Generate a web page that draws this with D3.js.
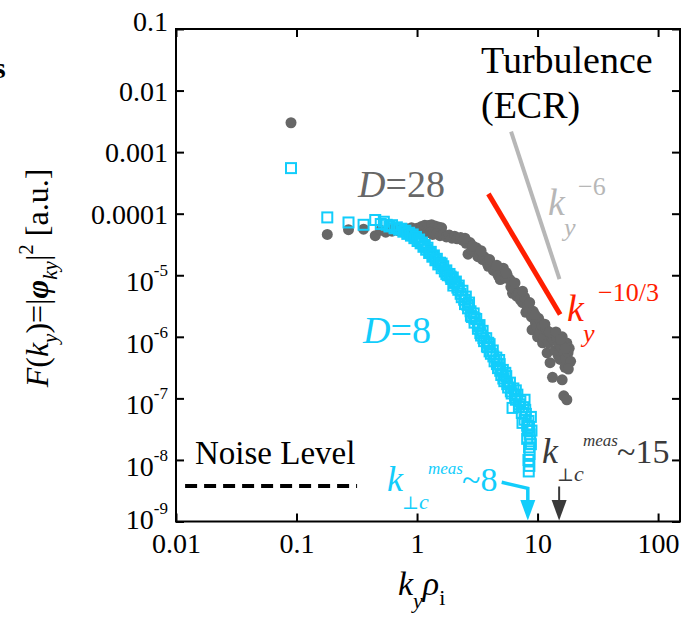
<!DOCTYPE html>
<html>
<head>
<meta charset="utf-8">
<script src="https://cdn.jsdelivr.net/npm/d3@7"></script>
<style>
  body { margin: 0; background: #fff; }
  svg text { font-family: "Liberation Serif", "DejaVu Serif", Times, serif; }
</style>
</head>
<body>
<div id="viz"></div>
<script>
const width = 691;
const height = 618;
const margin = {top: 29, right: 11, bottom: 96.5, left: 176};

// tick values
const xTicks = [0.01, 0.1, 1, 10, 100];
const yTicks = [0.1, 0.01, 0.001, 0.0001, 1e-5, 1e-6, 1e-7, 1e-8, 1e-9];
const xTickLabels = ['0.01', '0.1', '1', '10', '100'];
const yTickLabels = ['0.1', '0.01', '0.001', '0.0001', '10|-5', '10|-6', '10|-7', '10|-8', '10|-9'];

// D=28 (grey dots) : [k_y rho_i, F]
const grayPoints = [
  [0.09, 3.0e-3], [0.18, 4.6e-5], [0.27, 5.5e-5], [0.36, 5.6e-5], [0.45, 4.4e-5],
  [0.50, 5.4e-5], [0.55, 5.0e-5], [0.58, 5.6e-5], [0.62, 5.2e-5], [0.66, 5.8e-5],
  [0.70, 5.3e-5], [0.74, 5.6e-5], [0.78, 5.1e-5], [0.82, 5.7e-5], [0.86, 5.4e-5],
  [0.90, 5.9e-5], [0.95, 5.5e-5], [1.00, 5.8e-5], [1.05, 5.3e-5],
  [1.09, 6.2e-5], [1.16, 6.5e-5], [1.24, 6.4e-5], [1.32, 6.6e-5], [1.41, 6.3e-5],
  [1.50, 6.1e-5], [1.60, 5.9e-5],
  [1.20, 4.9e-5], [1.28, 5.0e-5], [1.35, 4.6e-5], [1.45, 4.7e-5], [1.55, 4.4e-5],
  [1.65, 4.6e-5], [1.75, 4.2e-5], [1.85, 4.5e-5], [1.95, 4.0e-5], [2.05, 4.3e-5],
  [2.15, 3.9e-5], [2.30, 4.1e-5], [2.40, 3.7e-5],
  [2.55, 3.3e-5], [2.65, 2.2e-5], [2.75, 3.4e-5], [2.85, 2.6e-5], [3.00, 2.4e-5],
  [3.10, 2.8e-5], [3.20, 2.0e-5], [3.35, 2.2e-5], [3.50, 1.8e-5], [3.60, 2.0e-5],
  [3.80, 1.6e-5], [3.90, 1.4e-5], [4.10, 1.5e-5], [4.30, 1.2e-5], [4.50, 1.3e-5],
  [4.70, 1.0e-5], [4.90, 8.5e-6], [5.00, 1.2e-5], [5.20, 1.3e-5], [5.40, 9.0e-6],
  [5.60, 1.0e-5], [5.90, 8.5e-6], [6.00, 6.5e-6], [6.20, 5.1e-6], [6.40, 6.0e-6],
  [6.70, 4.6e-6], [7.00, 5.2e-6], [7.20, 4.0e-6], [7.50, 3.6e-6], [7.80, 4.4e-6],
  [8.00, 2.5e-6], [8.20, 3.1e-6], [8.50, 2.6e-6], [8.90, 2.1e-6], [9.00, 1.3e-6],
  [9.20, 2.6e-6], [9.60, 1.7e-6], [9.90, 1.45e-6], [10.0, 1.0e-6], [10.2, 2.0e-6],
  [10.5, 1.17e-6], [10.9, 1.5e-6], [11.0, 8.0e-7], [11.3, 1.0e-6], [11.8, 1.3e-6],
  [12.0, 5.5e-7], [12.3, 8.0e-7], [12.7, 3.8e-7], [13.0, 1.0e-6], [13.5, 8.9e-7],
  [13.3, 2.2e-7], [14.0, 6.0e-7], [14.4, 9.5e-7], [14.8, 5.0e-7], [15.0, 7.5e-7],
  [15.4, 4.3e-7], [15.7, 6.8e-7], [16.0, 1.0e-6], [16.0, 2.0e-7], [16.6, 5.5e-7],
  [16.9, 3.2e-7], [17.2, 4.5e-7], [16.5, 1.1e-7], [17.5, 9.5e-8], [17.5, 7.9e-7],
  [17.9, 5.5e-7], [18.3, 6.5e-7], [18.8, 4.0e-7],
  [2.50, 4.0e-5], [2.90, 3.0e-5], [3.40, 2.5e-5], [4.00, 1.8e-5], [4.60, 1.45e-5],
  [5.50, 1.1e-5], [6.50, 7.5e-6], [7.50, 5.5e-6], [8.60, 3.6e-6], [9.50, 2.3e-6],
  [11.5, 1.6e-6], [12.5, 1.2e-6], [14.2, 1.2e-6], [15.5, 9.0e-7], [17.0, 6.5e-7],
  [18.0, 3.0e-7]
];

// D=8 (cyan squares) : [k_y rho_i, F]
const cyanPoints = [
  [0.09, 5.5e-4], [0.18, 8.7e-5], [0.27, 7.2e-5], [0.36, 6.6e-5], [0.45, 7.9e-5],
  [0.50, 6.8e-5], [0.53, 7.4e-5], [0.56, 6.6e-5], [0.59, 6.2e-5], [0.62, 6.5e-5],
  [0.65, 5.8e-5], [0.68, 6.0e-5], [0.71, 5.5e-5], [0.74, 5.7e-5], [0.77, 5.1e-5],
  [0.80, 5.3e-5], [0.83, 4.7e-5], [0.86, 4.9e-5], [0.89, 4.4e-5], [0.92, 4.6e-5],
  [0.95, 4.0e-5], [0.98, 4.2e-5], [1.01, 3.6e-5], [1.04, 3.8e-5], [1.07, 3.3e-5],
  [1.10, 3.4e-5], [1.13, 2.9e-5], [1.16, 3.1e-5], [1.19, 2.6e-5], [1.22, 2.8e-5],
  [1.26, 2.3e-5], [1.30, 2.4e-5], [1.34, 2.0e-5], [1.38, 2.1e-5], [1.42, 1.75e-5],
  [1.46, 1.85e-5], [1.50, 1.5e-5], [1.55, 1.6e-5], [1.60, 1.3e-5], [1.65, 1.4e-5],
  [1.70, 1.15e-5], [1.75, 1.2e-5], [1.80, 1.0e-5], [1.86, 1.05e-5], [1.92, 8.7e-6],
  [1.98, 9.2e-6], [2.04, 7.5e-6], [2.10, 7.9e-6], [2.16, 6.3e-6], [2.22, 6.8e-6],
  [2.30, 5.0e-6], [2.38, 5.6e-6], [2.46, 4.0e-6], [2.54, 4.5e-6], [2.62, 3.3e-6],
  [2.70, 3.6e-6], [2.78, 2.6e-6], [2.85, 2.1e-6], [2.95, 2.4e-6], [3.00, 1.7e-6],
  [3.10, 1.95e-6], [3.20, 1.35e-6], [3.30, 1.55e-6], [3.40, 1.05e-6], [3.50, 1.25e-6],
  [3.60, 8.5e-7], [3.75, 9.5e-7], [3.85, 6.8e-7], [4.00, 7.6e-7], [4.10, 5.3e-7],
  [4.25, 6.0e-7], [4.40, 4.0e-7], [4.55, 4.6e-7], [4.70, 3.1e-7], [4.85, 3.6e-7],
  [5.00, 2.4e-7], [5.15, 2.9e-7], [5.30, 1.9e-7], [5.50, 2.3e-7], [5.70, 1.5e-7],
  [5.90, 1.8e-7], [6.10, 1.2e-7], [6.30, 1.45e-7], [6.60, 9.5e-8], [6.80, 1.15e-7],
  [7.00, 7.4e-8], [7.20, 9.0e-8], [7.40, 5.8e-8], [7.60, 7.2e-8], [7.80, 4.5e-8],
  [8.00, 5.6e-8], [8.20, 3.6e-8], [8.40, 4.3e-8], [8.60, 2.6e-8], [8.30, 3.0e-8],
  [8.70, 2.0e-8], [8.50, 1.6e-8], [8.60, 1.25e-8], [8.40, 1.0e-8], [8.55, 8.0e-9],
  [8.45, 6.5e-9], [7.80, 9.5e-8], [6.20, 7.0e-8], [8.80, 5.0e-8], [7.50, 4.0e-8],
  [8.90, 3.0e-8],
  [1.60, 1.55e-5], [1.75, 1.05e-5], [1.90, 9.5e-6], [2.00, 6.8e-6], [2.20, 5.8e-6],
  [2.35, 4.4e-6], [2.50, 3.4e-6], [2.65, 2.9e-6], [2.80, 2.2e-6], [3.00, 2.0e-6],
  [3.20, 1.5e-6], [3.35, 1.15e-6], [3.55, 9.5e-7], [3.80, 7.0e-7], [4.00, 5.8e-7],
  [4.30, 4.8e-7], [4.60, 3.6e-7], [4.90, 2.8e-7], [5.20, 2.1e-7], [5.60, 1.7e-7],
  [6.00, 1.3e-7], [6.50, 1.1e-7], [7.10, 8.0e-8], [7.90, 6.5e-8], [8.50, 3.4e-8],
  [8.20, 2.2e-8], [8.80, 1.8e-8], [4.80, 4.2e-7], [5.40, 2.6e-7], [6.60, 1.35e-7],
  [3.90, 8.0e-7]
];

// reference slopes and noise floor
const slopeRed = [[3.91, 2.1e-4], [15.4, 2.3e-6]];      // k^-10/3
const slopeGray = [[6.03, 2.15e-3], [15.2, 8.65e-6]];   // k^-6
const noiseLevel = [[0.0119, 3.77e-9], [0.318, 3.77e-9]];
const kcCyan = 8.3;
const kcGray = 15.1;

const colGray = '#676767';
const colCyan = '#12cdfb';
const colRed = '#ff1e00';
const colLight = '#b7b7b7';
const colDark = '#3a3a3a';
const serif = '"Liberation Serif", "DejaVu Serif", Times, serif';

const x = d3.scaleLog().domain([0.01, 152]).range([margin.left, width - margin.right]);
const y = d3.scaleLog().domain([1e-9, 0.1]).range([height - margin.bottom, margin.top]);

const svg = d3.select('#viz').append('svg')
  .attr('width', width)
  .attr('height', height)
  .attr('font-family', serif);

// data
svg.append('g')
  .selectAll('circle')
  .data(grayPoints)
  .join('circle')
    .attr('cx', d => x(d[0]))
    .attr('cy', d => y(d[1]))
    .attr('r', 5.5)
    .attr('fill', colGray);

svg.append('g')
  .selectAll('rect')
  .data(cyanPoints)
  .join('rect')
    .attr('x', d => x(d[0]) - 5)
    .attr('y', d => y(d[1]) - 5)
    .attr('width', 10)
    .attr('height', 10)
    .attr('fill', 'none')
    .attr('stroke', colCyan)
    .attr('stroke-width', 2);

const line = d3.line().x(d => x(d[0])).y(d => y(d[1]));

svg.append('path').attr('d', line(slopeGray))
  .attr('stroke', colLight).attr('stroke-width', 4).attr('fill', 'none');
svg.append('path').attr('d', line(slopeRed))
  .attr('stroke', colRed).attr('stroke-width', 5).attr('fill', 'none');
svg.append('path').attr('d', line(noiseLevel))
  .attr('stroke', '#000').attr('stroke-width', 4).attr('stroke-dasharray', '12 7').attr('fill', 'none');

// axes: ticks inside on all four sides
const x0 = x.range()[0], x1 = x.range()[1];
const y0 = y.range()[0], y1 = y.range()[1];

const axB = svg.append('g').attr('transform', `translate(0,${y0})`)
  .call(d3.axisBottom(x).tickValues(xTicks).tickSize(-8).tickPadding(11.5)
    .tickFormat((d, i) => xTickLabels[i]));
svg.append('g').attr('transform', `translate(0,${y1})`)
  .call(d3.axisTop(x).tickValues(xTicks).tickSize(-8).tickFormat(''));
svg.append('g').attr('transform', `translate(${x0},0)`)
  .call(d3.axisLeft(y).tickValues(yTicks).tickSize(-8).tickFormat(''));
svg.append('g').attr('transform', `translate(${x1},0)`)
  .call(d3.axisRight(y).tickValues(yTicks).tickSize(-8).tickFormat(''));

svg.selectAll('.domain').remove();
svg.selectAll('.tick line').attr('stroke', '#000').attr('stroke-width', 2);
axB.attr('font-family', serif).attr('font-size', 28);
axB.selectAll('text').attr('fill', '#000');

svg.append('rect')
  .attr('x', x0).attr('y', y1)
  .attr('width', x1 - x0).attr('height', y0 - y1)
  .attr('fill', 'none').attr('stroke', '#000').attr('stroke-width', 2);

// y tick labels
yTicks.forEach((v, i) => {
  const lab = yTickLabels[i];
  const yy = y(v);
  const t = svg.append('text')
    .attr('x', 168)
    .attr('text-anchor', 'end')
    .attr('font-size', 28);
  if (lab.indexOf('|') < 0) {
    t.attr('y', yy + (i === 0 ? 2 : 10)).text(lab);
  } else {
    const [base, ex] = lab.split('|');
    const off = i === yTicks.length - 1 ? 7 : 16;
    t.attr('y', yy + off);
    t.append('tspan').text(base);
    t.append('tspan').attr('dy', -15).attr('font-size', 17).text(ex);
  }
});

// generic helper for text pieces
function txt(px, py, str, size, color, style, anchor) {
  return svg.append('text')
    .attr('x', px).attr('y', py)
    .attr('fill', color || '#000')
    .attr('text-anchor', anchor || 'start')
    .attr('font-size', size)
    .attr('font-style', style || 'normal')
    .text(str);
}

// annotations
txt(481, 73, 'Turbulence', 38);
txt(481, 118, '(ECR)', 38);

const d28 = svg.append('text').attr('x', 358).attr('y', 197).attr('fill', colGray).attr('font-size', 38);
d28.append('tspan').attr('font-style', 'italic').text('D');
d28.append('tspan').text('=28');

const d8 = svg.append('text').attr('x', 363).attr('y', 343).attr('fill', colCyan).attr('font-size', 38);
d8.append('tspan').attr('font-style', 'italic').text('D');
d8.append('tspan').text('=8');

txt(548, 215, 'k', 38, colLight, 'italic');
txt(564, 236, 'y', 26, colLight, 'italic');
txt(578, 195, '\u22126', 26, colLight);

txt(567, 321, 'k', 38, colRed, 'italic');
txt(583, 342, 'y', 26, colRed, 'italic');
txt(598, 301, '\u221210/3', 26, colRed);

txt(195, 464, 'Noise Level', 33);

// k_perp,c labels
function kcLabel(px, py, tail, color) {
  txt(px, py, 'k', 36, color, 'italic');
  const s = svg.append('text').attr('x', px + 15).attr('y', py + 18)
    .attr('fill', color).attr('font-size', 22);
  s.append('tspan').attr('font-family', '"DejaVu Serif", serif').attr('font-size', 18).text('\u22a5');
  s.append('tspan').attr('font-style', 'italic').text('c');
  txt(px + 41, py - 17, 'meas', 17, color, 'italic');
  txt(px + 75, py, tail, 34, color);
}
kcLabel(387, 491, '~8', colCyan);
kcLabel(542, 463, '~15', colDark);

// arrows
const yTip = y0 - 1;
svg.append('path')
  .attr('d', `M501.7,482.3 L${x(kcCyan)},488.3 L${x(kcCyan)},501`)
  .attr('stroke', colCyan).attr('stroke-width', 3.5).attr('fill', 'none');
svg.append('path')
  .attr('d', `M${x(kcCyan) - 7.5},500 L${x(kcCyan) + 7.5},500 L${x(kcCyan)},${yTip} Z`)
  .attr('fill', colCyan);
svg.append('path')
  .attr('d', `M${x(kcGray)},486.5 L${x(kcGray)},501`)
  .attr('stroke', colDark).attr('stroke-width', 2).attr('fill', 'none');
svg.append('path')
  .attr('d', `M${x(kcGray) - 7.5},500 L${x(kcGray) + 7.5},500 L${x(kcGray)},${yTip} Z`)
  .attr('fill', colDark);

// axis titles
const xt = svg.append('text').attr('x', 398).attr('y', 595).attr('font-size', 34);
xt.append('tspan').attr('font-style', 'italic').text('k');
xt.append('tspan').attr('dy', 13).attr('font-size', 22).attr('font-style', 'italic').text('y');
xt.append('tspan').attr('dy', -13).attr('font-style', 'italic').text('\u03c1');
xt.append('tspan').attr('dy', 10).attr('font-size', 22).text('i');

const yt = svg.append('text')
  .attr('transform', 'translate(48,278) rotate(-90)')
  .attr('text-anchor', 'middle')
  .attr('font-size', 32);
yt.append('tspan').attr('font-style', 'italic').text('F');
yt.append('tspan').text('(');
yt.append('tspan').attr('font-style', 'italic').text('k');
yt.append('tspan').attr('dy', 9).attr('font-size', 21).attr('font-style', 'italic').text('y');
yt.append('tspan').attr('dy', -9).text(')=|');
yt.append('tspan').attr('font-style', 'italic').attr('font-weight', 'bold').text('\u03c6');
yt.append('tspan').attr('dy', 9).attr('font-size', 21).attr('font-style', 'italic').text('ky');
yt.append('tspan').attr('dy', -9).text('|');
yt.append('tspan').attr('dy', -15).attr('font-size', 21).text('2');
yt.append('tspan').attr('dy', 15).text(' [a.u.]');

// cropped panel letter at the left edge
svg.append('text').attr('x', -6).attr('y', 78)
  .attr('font-size', 30).attr('font-weight', 'bold').attr('fill', '#000').text('s');
</script>
</body>
</html>
